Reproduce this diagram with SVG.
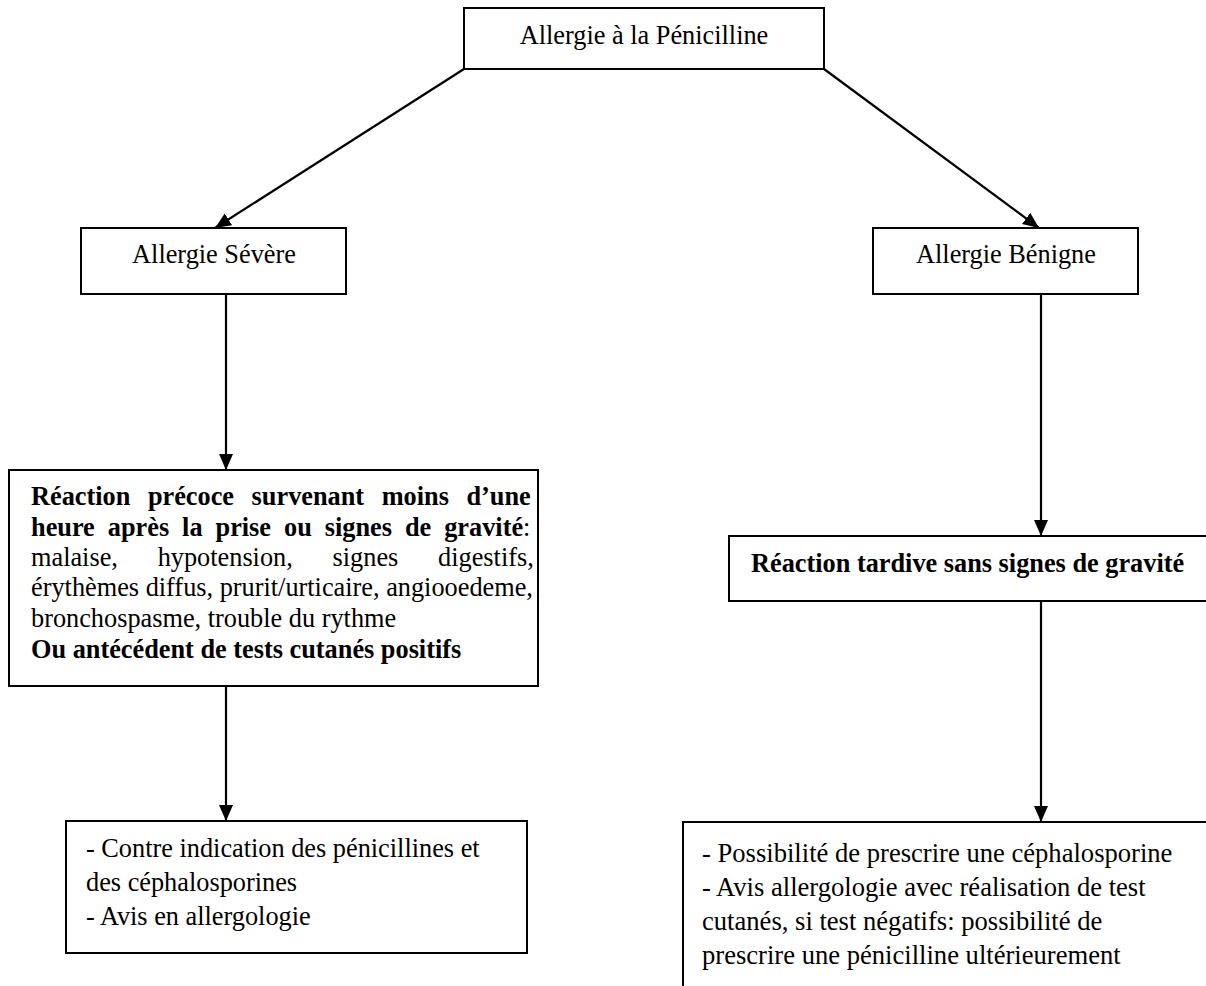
<svg xmlns="http://www.w3.org/2000/svg" width="1206" height="986" viewBox="0 0 1206 986">
<style>
.box{fill:#fff;stroke:#000;stroke-width:2}
.t{font-family:"Liberation Serif","Times New Roman",serif;font-size:26.3px;fill:#000}
.b{font-weight:bold}
.c{text-anchor:middle}
.con{stroke:#000;stroke-width:2.2;fill:none;marker-end:url(#ah)}
</style>
<defs>
<marker id="ah" markerUnits="userSpaceOnUse" markerWidth="18" markerHeight="16" refX="16" refY="7" orient="auto">
<path d="M0,0 L16,7 L0,14 z" fill="#000"/>
</marker>
</defs>
<rect width="1206" height="986" fill="#fff"/>
<g id="connectors">
<line class="con" x1="464" y1="69" x2="215" y2="228"/>
<line class="con" x1="824" y1="69" x2="1039" y2="228"/>
<line class="con" x1="226" y1="294" x2="226" y2="470"/>
<line class="con" x1="226" y1="686" x2="226" y2="821"/>
<line class="con" x1="1041" y1="294" x2="1041" y2="536"/>
<line class="con" x1="1041" y1="601" x2="1041" y2="822"/>
</g>
<g id="n-penicilline">
<rect class="box" x="464" y="8" width="360" height="61"/>
<text class="t c" x="644" y="44">Allergie à la Pénicilline</text>
</g>
<g id="n-severe">
<rect class="box" x="81" y="228" width="265" height="66"/>
<text class="t c" x="214" y="263">Allergie Sévère</text>
</g>
<g id="n-benigne">
<rect class="box" x="873" y="228" width="265" height="66"/>
<text class="t c" x="1006" y="263">Allergie Bénigne</text>
</g>
<g id="n-precoce">
<rect class="box" x="9" y="470" width="529" height="216"/>
<text class="t b" x="31" y="505" word-spacing="11">Réaction précoce survenant moins d’une</text>
<text class="t" x="31" y="536" word-spacing="6.4"><tspan class="b">heure après la prise ou signes de gravité</tspan>:</text>
<text class="t" x="31" y="566" word-spacing="33.2">malaise, hypotension, signes digestifs,</text>
<text class="t" x="31" y="596">érythèmes diffus, prurit/urticaire, angiooedeme,</text>
<text class="t" x="31" y="627">bronchospasme, trouble du rythme</text>
<text class="t b" x="31" y="658">Ou antécédent de tests cutanés positifs</text>
</g>
<g id="n-tardive">
<rect class="box" x="729" y="536" width="490" height="65"/>
<text class="t b" x="751" y="572">Réaction tardive sans signes de gravité</text>
</g>
<g id="n-contre">
<rect class="box" x="66" y="821" width="461" height="132"/>
<text class="t" x="86" y="857">- Contre indication des pénicillines et</text>
<text class="t" x="86" y="891">des céphalosporines</text>
<text class="t" x="86" y="925">- Avis en allergologie</text>
</g>
<g id="n-possibilite">
<rect class="box" x="683" y="822" width="540" height="180"/>
<text class="t" x="702" y="862" style="font-size:26.6px">- Possibilité de prescrire une céphalosporine</text>
<text class="t" x="702" y="896" style="font-size:26.6px">- Avis allergologie avec réalisation de test</text>
<text class="t" x="702" y="930" style="font-size:26.6px">cutanés, si test négatifs: possibilité de</text>
<text class="t" x="702" y="964" style="font-size:26.6px">prescrire une pénicilline ultérieurement</text>
</g>
</svg>
